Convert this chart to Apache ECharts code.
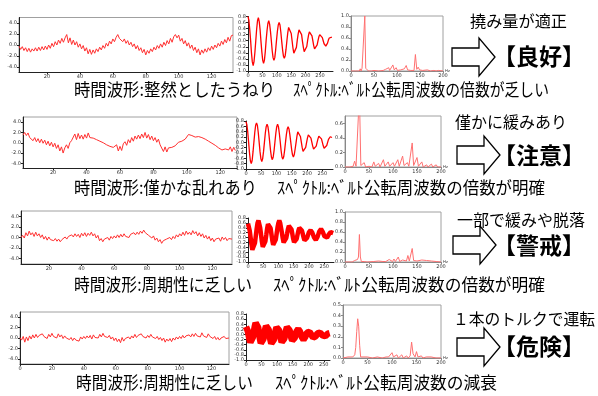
<!DOCTYPE html>
<html>
<head>
<meta charset="utf-8">
<script src="https://cdn.jsdelivr.net/npm/echarts@6/dist/echarts.min.js"></script>
<style>
  html, body { margin: 0; padding: 0; background: #fff; }
  #main { width: 598px; height: 396px; }
</style>
</head>
<body>
<div id="main"></div>
<script>
// ---- time waveforms (one sample per unit, start given in waveStart) ----
const waveStart = [3, 2, 3, 0];
const wave1 = [
  -0.2,-0.8,-0.3,-1.0,-0.5,-1.2,-0.6,-1.3,-0.7,-1.1,
  -0.5,-1.1,-0.4,-1.0,-0.3,-0.9,-0.2,-0.8,0.0,-0.6,
  0.3,-0.3,0.6,0.0,0.9,0.3,1.2,0.5,1.3,1.9,
  0.4,1.3,0.1,0.9,0.0,0.6,-0.4,0.2,-0.7,-0.1,
  -1.1,-0.5,-1.6,-0.8,-1.7,-0.9,-1.5,-0.7,-1.2,-0.4,
  -0.9,-0.1,-0.6,0.3,-0.2,0.7,0.2,1.1,0.6,1.4,
  1.9,1.2,1.4,0.6,1.1,0.3,0.8,0.0,0.5,-0.3,
  0.2,-0.7,-0.1,-1.0,-0.5,-1.4,-0.8,-1.8,-1.0,-1.5,
  -0.7,-1.2,-0.4,-0.9,-0.1,-0.6,0.2,-0.4,0.5,-0.1,
  0.8,0.2,1.2,0.5,1.5,1.9,1.3,1.8,0.7,1.2,
  0.2,0.8,-0.2,0.4,-0.6,0.0,-1.0,-0.4,-1.4,-0.7,
  -1.8,-0.9,-1.5,-0.7,-1.3,-0.5,-1.0,-0.2,-0.8,0.0,
  -0.5,0.3,-0.2,0.7,0.1,1.0,0.4,1.4,0.7,1.7,1.8
];
const wave2 = [
  1.5,2.0,1.4,1.9,1.0,1.2,0.4,1.0,0.2,0.8,
  0.0,0.7,-0.1,0.5,-0.4,0.3,-0.6,0.1,-0.8,-0.1,
  -1.1,-0.4,-1.6,-0.8,-2.0,-1.0,-0.4,-1.1,0.0,0.4,
  0.4,1.7,0.6,1.8,0.8,1.5,0.7,1.6,0.9,1.9,
  1.0,1.1,0.9,0.8,0.6,0.5,0.3,0.1,0.0,-0.2,
  -0.4,-0.6,-0.7,-1.0,-0.9,-1.2,-0.4,-1.6,-0.7,-1.5,
  -0.2,0.2,-0.5,0.6,0.0,1.0,0.3,1.3,0.7,1.5,
  0.8,1.7,1.0,2.0,0.9,1.6,0.6,1.3,0.4,1.0,
  0.1,0.7,-0.4,-0.6,-1.7,-0.8,-1.8,-1.0,-1.1,-0.9,
  -0.8,-0.6,-0.5,0.1,0.1,0.3,0.5,0.7,0.9,1.6,
  1.4,1.4,1.3,1.1,1.0,1.2,1.1,1.0,0.8,0.7,
  0.4,0.3,0.1,-0.1,-0.3,-0.5,-0.7,-1.0,-1.2,-1.4,
  -1.3,-1.2,-1.0,-1.4,-0.8,-1.7,-0.9,-1.5
];
const wave3 = [
  0.0,0.4,-0.1,0.9,0.3,1.2,0.5,0.9,0.2,1.0,
  0.3,0.7,0.0,0.5,-0.3,0.2,-0.5,0.1,-0.4,-0.1,
  -0.6,-0.2,-0.7,-0.3,-0.8,-0.4,-0.2,0.1,-0.3,0.2,
  -0.1,0.5,0.1,0.7,0.2,0.6,0.0,0.8,0.3,0.9,
  0.2,0.8,0.4,1.0,0.3,0.7,-0.1,0.4,-0.6,-0.2,
  -0.8,-0.3,-0.6,0.0,-0.5,0.2,-0.2,0.3,-0.1,0.5,
  0.0,0.6,0.1,0.7,0.2,0.5,0.0,0.6,0.3,0.9,
  0.5,1.0,0.6,1.2,0.8,1.4,0.9,1.1,0.4,0.6,
  -0.1,0.3,-0.5,-0.1,-0.8,-0.4,-1.1,-0.6,-0.9,-0.3,
  -0.6,0.0,-0.4,0.2,-0.2,0.5,0.1,0.7,0.3,1.0,
  0.4,1.2,0.6,1.0,0.5,1.3,0.7,1.1,0.3,0.9,
  0.2,0.7,-0.1,0.4,-0.3,0.2,-0.6,-0.1,-0.8,-0.3,
  -0.5,-0.1,-0.7,0.1,-0.4,0.0,-0.6,-0.2,-0.5,-0.3
];
const wave4 = [
  0.1,-0.4,0.3,-0.8,0.2,-0.5,0.4,-0.2,0.6,0.0,
  0.7,0.1,0.5,0.2,0.8,0.3,0.6,-0.1,0.7,0.2,
  0.9,0.3,0.5,0.0,0.8,0.2,0.6,-0.1,0.4,0.0,
  0.3,-0.3,0.1,-0.5,0.0,-0.4,-0.1,-0.6,0.2,-0.2,
  0.3,-0.1,0.4,0.0,0.5,-0.2,0.6,0.1,0.4,0.0,
  0.7,0.2,0.9,0.3,0.6,0.1,0.5,-0.2,0.2,-0.5,
  0.0,-0.7,-0.2,-0.9,0.1,-0.6,-0.1,-0.3,0.2,-0.2,
  0.4,0.0,0.7,0.1,0.5,0.2,0.8,0.3,0.6,0.0,
  0.5,0.1,0.7,0.2,0.4,-0.1,0.3,-0.3,0.1,-0.5,
  0.0,-0.8,-0.2,-0.6,-0.1,-0.7,0.0,-0.4,0.2,-0.2,
  0.3,-0.1,0.5,0.0,0.4,0.1,0.6,0.2,0.8,0.3,
  0.9,0.4,0.7,0.2,1.0,0.4,0.6,0.1,0.8,0.3,
  0.5,-0.1,0.3,-0.3,0.1,-0.4,0.0,-0.2,0.3,-0.1,
  0.1,0.0
];

// ---- decaying responses (sample spacing in decayStep) ----
const decayStep = [3, 2.875, 2.85, 2.8];
const decay1 = [
  0.80,0.68,0.38,0.02,-0.40,-0.70,-0.82,-0.68,-0.38,0.00,0.38,0.66,
  0.76,0.63,0.36,-0.02,-0.37,-0.64,-0.75,-0.64,-0.36,0.02,0.33,0.57,
  0.66,0.55,0.31,0.00,-0.33,-0.56,-0.65,-0.56,-0.30,0.02,0.31,0.52,
  0.60,0.52,0.28,-0.02,-0.30,-0.51,-0.58,-0.50,-0.28,0.00,0.26,0.44,
  0.50,0.42,0.24,0.00,-0.24,-0.41,-0.47,-0.40,-0.22,0.02,0.22,0.36,
  0.42,0.36,0.20,-0.02,-0.21,-0.36,-0.40,-0.34,-0.19,0.01,0.18,0.29,
  0.33,0.28,0.16,0.00,-0.16,-0.27,-0.30,-0.26,-0.14,0.00,0.13,0.20,
  0.22,0.19,0.10,0.00,-0.10,-0.16,-0.18,-0.15,-0.08,0.02,0.09,0.13,
  0.15,0.12
];
const decay2 = [
  0.77,0.66,0.38,0.00,-0.40,-0.70,-0.80,-0.68,-0.36,0.01,0.37,0.64,
  0.73,0.63,0.36,0.00,-0.36,-0.62,-0.72,-0.61,-0.34,0.00,0.34,0.59,
  0.68,0.59,0.34,0.01,-0.32,-0.56,-0.65,-0.55,-0.30,0.02,0.34,0.59,
  0.68,0.58,0.33,0.02,-0.31,-0.55,-0.63,-0.54,-0.30,0.00,0.29,0.50,
  0.58,0.50,0.28,0.01,-0.27,-0.47,-0.55,-0.46,-0.25,-0.02,0.22,0.39,
  0.45,0.39,0.22,0.02,-0.19,-0.34,-0.40,-0.34,-0.19,-0.01,0.16,0.28,
  0.33,0.28,0.16,0.01,-0.14,-0.25,-0.30,-0.25,-0.14,0.00,0.13,0.23,
  0.27,0.23,0.13,0.00,-0.13,-0.22,-0.26,-0.22,-0.12,0.00,0.11,0.18,
  0.21,0.19,0.18
];
const decay3 = [
  0.57,0.50,0.28,0.00,-0.28,-0.50,-0.57,-0.48,-0.22,0.07,0.37,0.60,
  0.70,0.62,0.40,0.12,-0.17,-0.38,-0.45,-0.37,-0.15,0.10,0.36,0.55,
  0.63,0.56,0.38,0.13,-0.12,-0.30,-0.37,-0.29,-0.08,0.17,0.42,0.60,
  0.70,0.60,0.40,0.20,-0.03,-0.20,-0.25,-0.18,-0.02,0.16,0.35,0.48,
  0.55,0.48,0.34,0.15,-0.05,-0.19,-0.25,-0.19,-0.05,0.12,0.28,0.40,
  0.45,0.40,0.29,0.15,0.00,-0.11,-0.15,-0.11,-0.01,0.10,0.21,0.28,
  0.30,0.27,0.20,0.10,0.00,-0.07,-0.10,-0.06,0.03,0.14,0.25,0.32,
  0.35,0.31,0.23,0.14,0.05,-0.01,-0.03,0.00,0.06,0.13,0.19,0.22,
  0.23,0.21,0.18
];
const decay4 = [
  0.30,0.26,0.14,-0.03,-0.20,-0.31,-0.35,-0.28,-0.10,0.10,0.30,0.45,
  0.50,0.44,0.27,0.04,-0.18,-0.34,-0.40,-0.34,-0.18,0.01,0.20,0.33,
  0.38,0.33,0.19,-0.01,-0.21,-0.35,-0.40,-0.35,-0.20,-0.02,0.16,0.28,
  0.32,0.28,0.16,-0.01,-0.18,-0.30,-0.34,-0.29,-0.16,0.00,0.17,0.28,
  0.32,0.28,0.17,0.02,-0.13,-0.24,-0.28,-0.24,-0.13,0.00,0.12,0.19,
  0.21,0.18,0.11,0.00,-0.10,-0.17,-0.20,-0.17,-0.10,-0.01,0.07,0.11,
  0.12,0.10,0.06,-0.01,-0.07,-0.12,-0.14,-0.12,-0.07,-0.01,0.04,0.07,
  0.08,0.07,0.03,0.00,-0.04,-0.07,-0.08,-0.07,-0.04,0.00,0.03,0.05,
  0.05
];

// ---- spectra [Hz, amplitude] ----
const spec1 = [[0,0],[10,0],[18,0],[20,0.04],[22,0],[24,0.05],[26,0.02],[28,0.05],[30,1.0],[32,0.05],[34,0.02],[38,0],[42,0.03],[44,0],[50,0.01],[60,0],[70,0.01],[75,0.03],[78,0.01],[82,0.06],[84,0.01],[88,0.04],[91,0.11],[94,0.02],[98,0.06],[101,0.01],[108,0.02],[112,0],[116,0.04],[120,0.1],[123,0.02],[130,0.01],[134,0.03],[137,0.01],[140,0.3],[143,0.03],[146,0.07],[149,0.02],[153,0.05],[156,0.01],[160,0],[166,0.02],[170,0.03],[173,0],[180,0.01],[185,0],[190,0.01],[200,0]];
const spec2 = [[0,0],[10,0],[17,0.01],[20,0.08],[23,0.01],[27,0.02],[30,1.0],[33,0.02],[37,0.01],[40,0.06],[43,0],[50,0.01],[56,0],[60,0.07],[63,0.01],[67,0.01],[70,0.05],[73,0],[77,0.01],[80,0.1],[83,0.01],[87,0.01],[90,0.07],[93,0.01],[97,0.01],[100,0.06],[103,0.01],[107,0.02],[110,0.1],[113,0.01],[117,0.02],[120,0.15],[123,0.02],[127,0.01],[130,0.06],[133,0.01],[137,0.02],[140,0.33],[143,0.02],[147,0.02],[150,0.13],[153,0.01],[157,0.01],[160,0.07],[163,0],[170,0.03],[173,0],[180,0.04],[183,0],[190,0.03],[193,0],[200,0]];
const spec3 = [[0,0],[15,0],[20,0.03],[23,0.01],[26,0.05],[28,0.1],[30,0.55],[32,0.1],[34,0.01],[40,0.01],[43,0.03],[46,0],[60,0.01],[70,0.02],[73,0],[79,0.01],[82,0.05],[85,0.01],[89,0.01],[92,0.05],[95,0.01],[99,0.01],[102,0.06],[105,0.01],[108,0.02],[111,0.1],[114,0.01],[120,0.04],[123,0.01],[128,0.02],[131,0.13],[134,0.02],[137,0.03],[140,0.27],[143,0.03],[146,0.01],[150,0.02],[153,0],[160,0.04],[163,0],[170,0.03],[173,0],[180,0.02],[183,0],[190,0.01],[200,0]];
const spec4 = [[0,0],[10,0.01],[20,0.01],[24,0.03],[26,0.1],[28,0.25],[30,0.37],[32,0.3],[34,0.12],[36,0.01],[40,0],[50,0.01],[60,0],[70,0.01],[80,0],[88,0.01],[90,0.02],[93,0.01],[97,0.01],[100,0.05],[103,0.01],[107,0.01],[110,0.03],[113,0],[117,0.01],[120,0.03],[123,0],[127,0.01],[130,0.02],[133,0],[137,0.02],[140,0.15],[143,0.04],[147,0.01],[150,0.06],[153,0.01],[160,0.02],[163,0],[170,0.01],[180,0.01],[190,0],[200,0]];

// ---- tick labels ----
const waveXTicks = [20, 40, 60, 80, 100, 120];
const waveXTicks4 = [0, 20, 40, 60, 80, 100, 120];
const waveYTicks = [-4, -2, 0, 2, 4];
const decayXTicks = [0, 50, 100, 150, 200, 250];
const decayYTicks = [-1.0, -0.8, -0.6, -0.4, -0.2, 0.0, 0.2, 0.4, 0.6, 0.8];
const specXTicks = [0, 50, 100, 150, 200];
const specYTicks = [0, 0.2, 0.4, 0.6, 0.8, 1.0];
const specYTicks2 = [0, 0.2, 0.4, 0.6];
const specYTicks4 = [0, 0.1, 0.2, 0.3, 0.4, 0.5];

// ---- texts ----
const captionWave = ['時間波形:整然としたうねり', '時間波形:僅かな乱れあり', '時間波形:周期性に乏しい', '時間波形:周期性に乏しい'];
const captionSpec = [
  'ｽﾍﾟｸﾄﾙ:ﾍﾞﾙﾄ公転周波数の倍数が乏しい',
  'ｽﾍﾟｸﾄﾙ:ﾍﾞﾙﾄ公転周波数の倍数が明確',
  'ｽﾍﾟｸﾄﾙ:ﾍﾞﾙﾄ公転周波数の倍数が明確',
  'ｽﾍﾟｸﾄﾙ:ﾍﾞﾙﾄ公転周波数の減衰'
];
const notes = ['撓み量が適正', '僅かに緩みあり', '一部で緩みや脱落', '１本のトルクで運転'];
const statuses = ['【良好】', '【注意】', '【警戒】', '【危険】'];

const FONT = '"Noto Sans CJK JP", "Noto Sans", sans-serif';

// layout of every row (pixels): text boxes are [x, width]
const rows = [
  { wave: wave1, waveGrid: [19, 17.5, 214, 55], waveX: [3, 133], waveTicks: waveXTicks,
    decay: decay1, decayGrid: [248, 16.5, 85, 54.5], decayMax: 295, decayWidth: 1.3,
    spec: spec1, specGrid: [351, 16, 92, 55], specMax: 1.0, specTicks: specYTicks,
    captionY: 90, cap1: [74, 201], cap2: [293, 256], note: [470, 97], noteY: 21,
    arrow: [452, 57], statusY: 56 },
  { wave: wave2, waveGrid: [23, 117, 214, 51.5], waveX: [2, 130], waveTicks: waveXTicks,
    decay: decay2, decayGrid: [246, 121, 87, 48], decayMax: 285, decayWidth: 1.3,
    spec: spec2, specGrid: [345, 116, 96, 51], specMax: 0.7, specTicks: specYTicks2,
    captionY: 188, cap1: [74, 183], cap2: [277, 268], note: [455, 112], noteY: 122,
    arrow: [457, 155], statusY: 155 },
  { wave: wave3, waveGrid: [21, 211, 211, 53], waveX: [3, 132], waveTicks: waveXTicks,
    decay: decay3, decayGrid: [248, 218, 86, 44], decayMax: 282, decayWidth: 4.5,
    spec: spec3, specGrid: [345, 212, 96, 50], specMax: 1.0, specTicks: specYTicks,
    captionY: 285, cap1: [74, 178], cap2: [273, 272], note: [457, 128], noteY: 220,
    arrow: [453, 245], statusY: 245 },
  { wave: wave4, waveGrid: [20, 312, 209, 52], waveX: [0, 131], waveTicks: waveXTicks4,
    decay: decay4, decayGrid: [246, 314, 84, 46], decayMax: 270, decayWidth: 6.5,
    spec: spec4, specGrid: [343, 305, 98, 53], specMax: 0.5, specTicks: specYTicks4,
    captionY: 383, cap1: [76, 177], cap2: [275, 222], note: [453, 142], noteY: 319,
    arrow: [457, 347], statusY: 346 }
];

const option = { animation: false, grid: [], xAxis: [], yAxis: [], series: [], graphic: [] };
const tiny = { fontSize: 5, color: '#333', fontFamily: 'DejaVu Sans', margin: 2 };

function addPanel(p) {
  const gi = option.grid.length;
  const [left, top, width, height] = p.box;
  option.grid.push({
    left, top, width, height,
    show: p.border, borderColor: '#a0a0a0', borderWidth: 1, backgroundColor: '#fff'
  });
  option.xAxis.push({
    type: 'value', gridIndex: gi, min: p.xMin, max: p.xMax,
    axisLine: { onZero: false, lineStyle: { color: p.axisColor, width: 1 } },
    axisTick: { customValues: p.xTicks, length: 2, lineStyle: { color: p.axisColor } },
    axisLabel: { customValues: p.xTicks, ...tiny, formatter: v => String(v) },
    splitLine: { show: false },
    name: p.xName || '', nameGap: 2, nameTextStyle: { fontSize: 4, color: '#333' }
  });
  option.yAxis.push({
    type: 'value', gridIndex: gi, min: p.yMin, max: p.yMax,
    axisLine: { show: true, onZero: false, lineStyle: { color: p.axisColor, width: 1 } },
    axisTick: { show: true, customValues: p.yTicks, length: 2, lineStyle: { color: p.axisColor } },
    axisLabel: { customValues: p.yTicks, ...tiny, formatter: v => v.toFixed(1) },
    splitLine: { show: false }
  });
  option.series.push({
    type: 'line', xAxisIndex: gi, yAxisIndex: gi, data: p.data,
    symbol: 'none', clip: true, silent: true,
    lineStyle: { color: p.color, width: p.width }
  });
}

// text squeezed or stretched horizontally to the width it has in the picture
const measure = document.createElement('canvas').getContext('2d');
function fittedText(text, font, box, y) {
  measure.font = font;
  const w = measure.measureText(text).width;
  return {
    type: 'text', x: box[0], y, scaleX: box[1] / w, silent: true,
    style: { text, font, fill: '#000', textAlign: 'left', textVerticalAlign: 'middle' }
  };
}

rows.forEach((r, i) => {
  addPanel({
    box: r.waveGrid, border: true, axisColor: '#222',
    xMin: r.waveX[0], xMax: r.waveX[1], xTicks: r.waveTicks,
    yMin: -5, yMax: 5, yTicks: waveYTicks,
    data: r.wave.map((v, k) => [waveStart[i] + k, v]),
    color: '#ff3030', width: 1
  });
  addPanel({
    box: r.decayGrid, border: false, axisColor: '#222',
    xMin: 0, xMax: r.decayMax, xTicks: decayXTicks,
    yMin: -1, yMax: 0.8, yTicks: decayYTicks,
    data: r.decay.map((v, k) => [k * decayStep[i], v]),
    color: '#ff0000', width: r.decayWidth
  });
  addPanel({
    box: r.specGrid, border: true, axisColor: '#888',
    xMin: 0, xMax: 200, xTicks: specXTicks, xName: 'Hz',
    yMin: 0, yMax: r.specMax, yTicks: r.specTicks,
    data: r.spec,
    color: '#ff7070', width: 1
  });

  option.graphic.push(fittedText(captionWave[i], '17px ' + FONT, r.cap1, r.captionY));
  option.graphic.push(fittedText(captionSpec[i], '17px ' + FONT, r.cap2, r.captionY));
  option.graphic.push(fittedText(notes[i], '16px ' + FONT, r.note, r.noteY));
  option.graphic.push({
    type: 'text', x: 539, y: r.statusY, silent: true,
    style: { text: statuses[i], font: 'bold 23px ' + FONT, fill: '#000',
      textAlign: 'center', textVerticalAlign: 'middle' }
  });
  option.graphic.push({
    type: 'polygon', x: r.arrow[0], y: r.arrow[1], silent: true,
    shape: { points: [[0, -9], [27, -9], [27, -19], [43, 0], [27, 19], [27, 9], [0, 9]] },
    style: { fill: '#fff', stroke: '#000', lineWidth: 1.3 }
  });
});

const chart = echarts.init(document.getElementById('main'));
chart.setOption(option);
window.onresize = chart.resize;
</script>
</body>
</html>
